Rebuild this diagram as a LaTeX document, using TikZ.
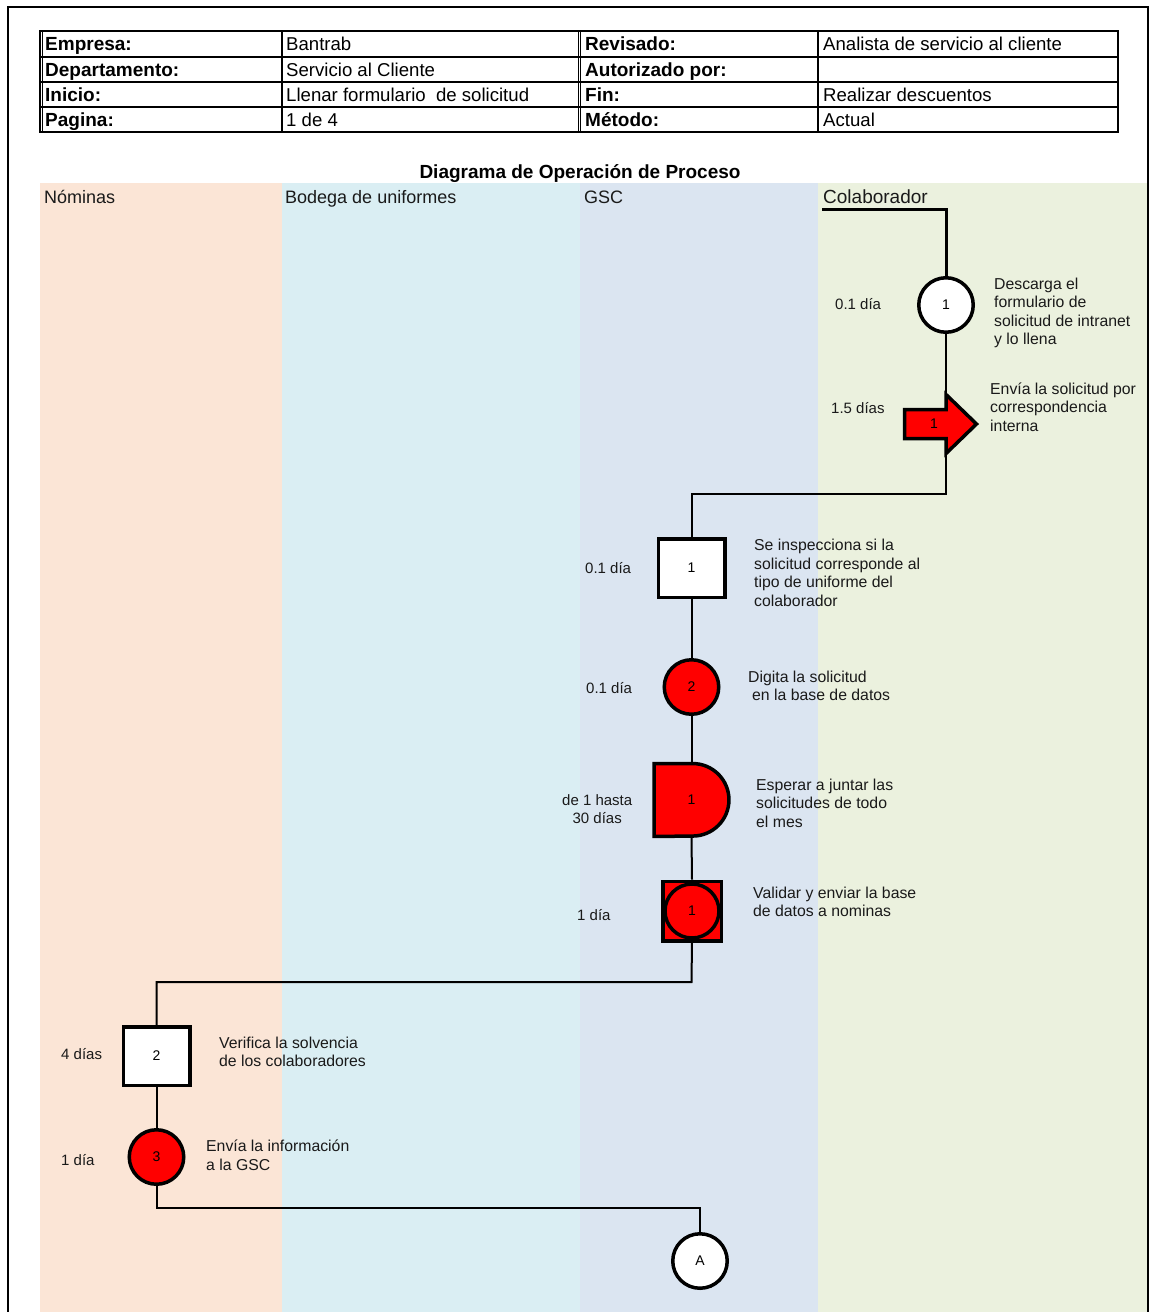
\documentclass[tikz,border=0pt]{standalone}
\usepackage{fontspec}
\setmainfont{Liberation Sans}
\usetikzlibrary{calc}

\definecolor{laneNom}{HTML}{FBE5D6}
\definecolor{laneBod}{HTML}{DAEEF3}
\definecolor{laneGsc}{HTML}{DBE5F1}
\definecolor{laneCol}{HTML}{EBF1DE}
\definecolor{opred}{HTML}{FF0000}
\definecolor{txt}{HTML}{1A1A1A}

\begin{document}
\begin{tikzpicture}[x=1pt,y=-1pt,
  cell/.style={font=\fontsize{18.6}{20}\selectfont, anchor=base west, inner sep=0, text=black},
  cellb/.style={cell, font=\fontsize{19}{20}\selectfont\bfseries},
  lanehead/.style={font=\fontsize{18}{20}\selectfont, anchor=base west, inner sep=0, text=txt},
  desc/.style={font=\fontsize{15.8}{18.5}\selectfont, align=left, anchor=west, inner sep=0, text=txt},
  timelbl/.style={font=\fontsize{15}{18.5}\selectfont, align=center, anchor=west, inner sep=0, text=txt},
  num/.style={font=\fontsize{14}{14}\selectfont},
  shapeline/.style={draw=black, line width=3.5pt},
  opcircle/.style={circle, shapeline, minimum size=54.5pt, inner sep=0, num},
  inspbox/.style={rectangle, shapeline, fill=white, minimum width=66.5pt, minimum height=58.5pt, inner sep=0, num},
  conn/.style={draw=black, line width=2pt},
  startline/.style={draw=black, line width=3pt},
  tbl/.style={draw=black, line width=1.2pt}
]
\useasboundingbox (0,0) rectangle (1150,1312);
\fill[white] (0,0) rectangle (1150,1312);

% swim lanes
\fill[laneNom] (40,183) rectangle (282,1312);
\fill[laneBod] (282,183) rectangle (580,1312);
\fill[laneGsc] (580,183) rectangle (818,1312);
\fill[laneCol] (818,183) rectangle (1148,1312);

% page frame
\draw[line width=1.5pt] (8,1320) -- (8,7) -- (1148,7) -- (1148,1320);

% header table
\draw[tbl] (40,31) rectangle (1118,132);
\foreach \yy in {57,82,107} \draw[tbl] (40,\yy) -- (1118,\yy);
\foreach \xx in {282,818} \draw[tbl] (\xx,31) -- (\xx,132);
\draw[line width=1pt] (42.5,31) -- (42.5,132);
\draw[line width=1pt] (578,31) -- (578,132);
\draw[line width=1pt] (580.5,31) -- (580.5,132);

\node[cellb] (t11) at (45,50.5) {Empresa:};
\node[cellb] (t21) at (45,76) {Departamento:};
\node[cellb] (t31) at (45,101) {Inicio:};
\node[cellb] (t41) at (45,126.5) {Pagina:};
\node[cell] (t12) at (286,50.5) {Bantrab};
\node[cell] (t22) at (286,76) {Servicio al Cliente};
\node[cell] (t32) at (286,101) {Llenar formulario\ \ de solicitud};
\node[cell] (t42) at (286,126.5) {1 de 4};
\node[cellb] (t13) at (585,50.5) {Revisado:};
\node[cellb] (t23) at (585,76) {Autorizado por:};
\node[cellb] (t33) at (585,101) {Fin:};
\node[cellb] (t43) at (585,126.5) {Método:};
\node[cell] (t14) at (823,50.5) {Analista de servicio al cliente};
\node[cell] (t34) at (823,101) {Realizar descuentos};
\node[cell] (t44) at (823,126.5) {Actual};

% title and lane headings
\node[font=\fontsize{19}{20}\selectfont\bfseries, inner sep=0, anchor=base] (title) at (580,178) {Diagrama de Operación de Proceso};
\node[lanehead] (hNom) at (44,203.5) {Nóminas};
\node[lanehead] (hBod) at (285,203.5) {Bodega de uniformes};
\node[lanehead] (hGsc) at (584,203.5) {GSC};
\node[lanehead, font=\fontsize{19}{20}\selectfont] (hCol) at (823,203.5) {Colaborador};

% --- Colaborador ---
\node[opcircle, fill=white] (op1) at (946,305) {1};
\node[timelbl] (tm1) at (835,304) {0.1 día};
\node[desc] (d1) at (994,313) {Descarga el\\formulario de\\solicitud de intranet\\y lo llena};

% transport arrow
\draw[shapeline, fill=opred] (904.5,409.5) -- (946,409.5) -- (946,394.5) -- (976.5,424)
  -- (946,453.5) -- (946,438.5) -- (904.5,438.5) -- cycle;
\node[num] (env) at (934,424) {1};
\coordinate (envtop) at (946,394.5);
\coordinate (envbot) at (946,453.5);
\node[timelbl] (tm2) at (831,408) {1.5 días};
\node[desc] (d2) at (990,407) {Envía la solicitud por\\correspondencia\\interna};

% --- GSC ---
\node[inspbox] (insp1) at (691.5,568) {1};
\node[timelbl] (tm3) at (585,568) {0.1 día};
\node[desc] (d3) at (754,573) {Se inspecciona si la\\solicitud corresponde al\\tipo de uniforme del\\colaborador};

\node[opcircle, fill=opred] (op2) at (691.5,687) {2};
\node[timelbl] (tm4) at (586,688) {0.1 día};
\node[desc] (d4) at (748,686) {Digita la solicitud\\\hspace*{4pt}en la base de datos};

\node[minimum width=74.5pt, minimum height=72.5pt, inner sep=0] (esp) at (691.5,800) {};
\draw[shapeline, fill=opred] (esp.north west) -- ($(esp.north east)+(-36.25,0)$)
  arc[start angle=-90, end angle=90, radius=36.25] -- (esp.south west) -- cycle;
\node[num] (espn) at (esp.center) {1};
\node[timelbl] (tm5) at (562,809) {de 1 hasta\\30 días};
\node[desc] (d5) at (756,803) {Esperar a juntar las\\solicitudes de todo\\el mes};

\node[rectangle, shapeline, fill=opred, minimum width=58.5pt, minimum height=59.5pt, inner sep=0] (comb) at (692,911) {};
\node[opcircle, fill=opred, minimum size=54pt] (combc) at (692,911) {1};
\node[timelbl] (tm6) at (577,915) {1 día};
\node[desc] (d6) at (753,902) {Validar y enviar la base\\de datos a nominas};

% --- Nóminas ---
\node[inspbox] (insp2) at (156.5,1056) {2};
\node[timelbl] (tm7) at (61,1054) {4 días};
\node[desc] (d7) at (219,1052) {Verifica la solvencia\\de los colaboradores};

\node[opcircle, fill=opred] (op3) at (156.5,1157) {3};
\node[timelbl] (tm8) at (61,1160) {1 día};
\node[desc] (d8) at (206,1155) {Envía la información\\a la GSC};

% off-page connector
\node[opcircle, fill=white] (conA) at (700,1261) {A};

% connectors
\coordinate (start) at (822,209);
\coordinate (bend1) at (946,494);
\coordinate (bend2) at (691.5,982);
\coordinate (bend3) at (156.5,1208);
\draw[startline] (start) -| (op1.north);
\draw[conn] (op1.south) -- (envtop);
\draw[conn] (envbot) -- (bend1) -| (insp1.north);
\draw[conn] (insp1.south) -- (op2.north);
\draw[conn] (op2.south) -- (esp.north);
\draw[conn] (esp.south) -- (comb.north);
\draw[conn] (comb.south) -- (bend2) -| (insp2.north);
\draw[conn] (insp2.south) -- (op3.north);
\draw[conn] (op3.south) -- (bend3) -| (conA.north);
\end{tikzpicture}
\end{document}
